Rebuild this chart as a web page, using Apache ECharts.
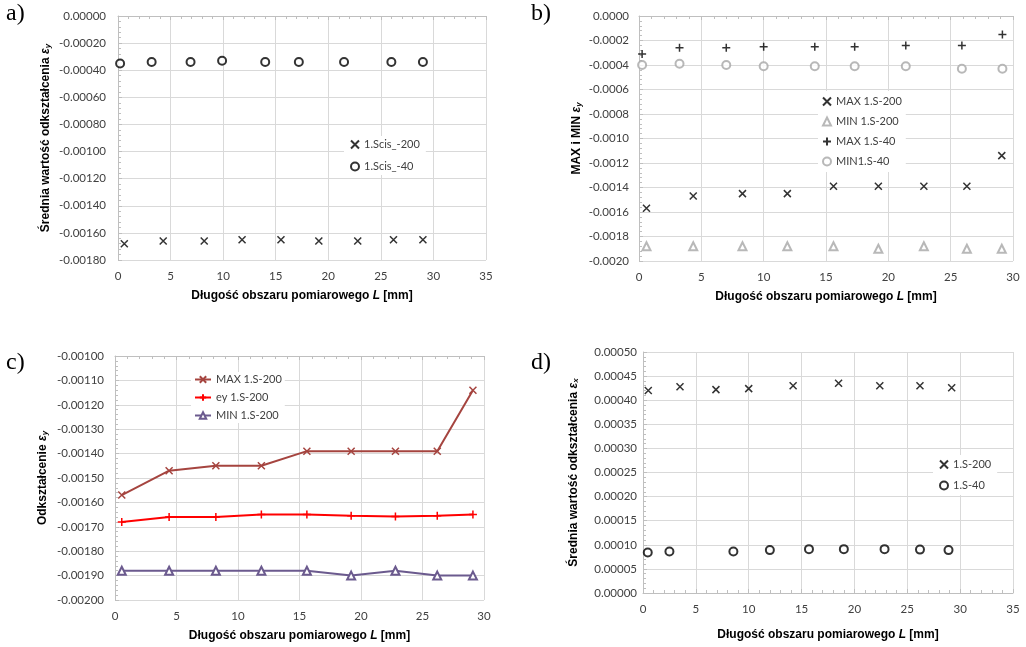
<!DOCTYPE html>
<html><head><meta charset="utf-8">
<script src="https://cdn.jsdelivr.net/npm/echarts@6/dist/echarts.min.js"></script>
<style>html,body{margin:0;padding:0;background:#fff}#c{width:1026px;height:647px}</style>
</head><body><div id="c"></div>
<script>
// Panel a
const aX200 = [0.6, 4.3, 8.2, 11.8, 15.5, 19.1, 22.8, 26.2, 29.0];
const aY200 = [-0.00168, -0.00166, -0.00166, -0.00165, -0.00165, -0.00166, -0.00166, -0.00165, -0.00165];
const aX40 = [0.2, 3.2, 6.9, 9.9, 14.0, 17.2, 21.5, 26.0, 29.0];
const aY40 = [-0.00035, -0.00034, -0.00034, -0.00033, -0.00034, -0.00034, -0.00034, -0.00034, -0.00034];
// Panel b
const bX200 = [0.6, 4.35, 8.3, 11.9, 15.6, 19.2, 22.85, 26.3, 29.1];
const bMax200 = [-0.00157, -0.00147, -0.00145, -0.00145, -0.00139, -0.00139, -0.00139, -0.00139, -0.00114];
const bMin200 = [-0.00188, -0.00188, -0.00188, -0.00188, -0.00188, -0.00190, -0.00188, -0.00190, -0.00190];
const bX40 = [0.25, 3.25, 7.0, 10.0, 14.1, 17.3, 21.4, 25.9, 29.15];
const bMax40 = [-0.00031, -0.00026, -0.00026, -0.00025, -0.00025, -0.00025, -0.00024, -0.00024, -0.00015];
const bMin40 = [-0.00040, -0.00039, -0.00040, -0.00041, -0.00041, -0.00041, -0.00041, -0.00043, -0.00043];
// Panel c
const cX = [0.55, 4.4, 8.2, 11.9, 15.6, 19.2, 22.8, 26.2, 29.1];
const cMax = [-0.00157, -0.00147, -0.00145, -0.00145, -0.00139, -0.00139, -0.00139, -0.00139, -0.00114];
const cEy = [-0.00168, -0.00166, -0.00166, -0.00165, -0.00165, -0.001655, -0.001658, -0.001655, -0.00165];
const cMin = [-0.00188, -0.00188, -0.00188, -0.00188, -0.00188, -0.00190, -0.00188, -0.00190, -0.00190];
// Panel d
const dX200 = [0.5, 3.5, 6.9, 10.0, 14.2, 18.5, 22.4, 26.2, 29.2];
const dY200 = [0.000420, 0.000428, 0.000422, 0.000424, 0.000430, 0.000435, 0.000430, 0.000430, 0.000426];
const dX40 = [0.45, 2.5, 8.55, 12.0, 15.7, 19.0, 22.85, 26.2, 28.9];
const dY40 = [0.000084, 0.000086, 0.000086, 0.000089, 0.000091, 0.000091, 0.000091, 0.000090, 0.000089];

const panelLabels = ['a)', 'b)', 'c)', 'd)'];
const xTitle = 'Długość obszaru pomiarowego {i|L} [mm]';
const yTitles = [
  'Średnia wartość odkształcenia {e|ε}{s|y}',
  'MAX i MIN {e|ε}{s|y}',
  'Odkształcenie {e|ε}{s|y}',
  'Średnia wartość odkształcenia {e|ε}{s|x}'
];
const namesA = ['1.Scis_-200', '1.Scis_-40'];
const namesB = ['MAX 1.S-200', 'MIN 1.S-200', 'MAX 1.S-40', 'MIN1.S-40'];
const namesC = ['MAX 1.S-200', 'ey 1.S-200', 'MIN 1.S-200'];
const namesD = ['1.S-200', '1.S-40'];

const zip = (xs, ys) => xs.map((x, i) => [x, ys[i]]);
const key = (p, n) => p + ':' + n;
const unkey = n => n.slice(2);
const CROSS = 'path://M0,0L10,10M0,10L10,0';
const PLUS = 'path://M5,0L5,10M0,5L10,5';
const GRIDC = '#d9d9d9';
const AXC = '#bfbfbf';
const LBL = {fontFamily: 'Lato', fontSize: 11.5, color: '#404040'};
const TITLE = {fontFamily: 'Liberation Sans', fontSize: 12, fontWeight: 'bold', color: '#000',
  rich: {
    e: {fontFamily: 'Liberation Sans', fontSize: 12, fontWeight: 'bold', fontStyle: 'italic', color: '#000'},
    s: {fontFamily: 'Liberation Sans', fontSize: 8, fontWeight: 'bold', fontStyle: 'italic', color: '#000', padding: [4, 0, 0, 0]},
    i: {fontFamily: 'Liberation Sans', fontSize: 12, fontWeight: 'bold', fontStyle: 'italic', color: '#000'}
  }};

function xBottom(grid, max, nameGap, showLine) {
  return {
    type: 'value', gridIndex: grid, position: 'bottom', min: 0, max: max, interval: 5,
    name: xTitle, nameLocation: 'middle', nameGap: nameGap, nameTextStyle: TITLE,
    axisLine: {show: showLine, onZero: false, lineStyle: {color: AXC}},
    axisTick: {show: showLine, inside: true, length: 4, lineStyle: {color: AXC}},
    minorTick: {show: showLine, splitNumber: 5, length: 3, lineStyle: {color: AXC}},
    axisLabel: Object.assign({margin: 10}, LBL),
    splitLine: {show: true, lineStyle: {color: GRIDC, width: 1}}
  };
}
function xTop(grid, max) {
  return {
    type: 'value', gridIndex: grid, position: 'top', min: 0, max: max, interval: 5,
    axisLine: {show: true, onZero: false, lineStyle: {color: AXC}},
    axisTick: {show: true, inside: true, length: 4, lineStyle: {color: AXC}},
    minorTick: {show: true, splitNumber: 5, length: 3, lineStyle: {color: AXC}},
    axisLabel: {show: false}, splitLine: {show: false}
  };
}
function yAx(grid, min, max, interval, dec, nameGap, margin, title) {
  return {
    type: 'value', gridIndex: grid, min: min, max: max, interval: interval,
    name: title, nameLocation: 'middle', nameRotate: 90, nameGap: nameGap, nameTextStyle: TITLE,
    axisLine: {show: true, onZero: false, lineStyle: {color: AXC}},
    axisTick: {show: true, inside: true, length: 4, lineStyle: {color: AXC}},
    minorTick: {show: true, splitNumber: 5, length: 3, lineStyle: {color: AXC}},
    axisLabel: Object.assign({margin: margin, formatter: v => (Math.abs(v) < 1e-12 ? 0 : v).toFixed(dec)}, LBL),
    splitLine: {show: true, lineStyle: {color: GRIDC, width: 1}}
  };
}
function scat(name, xi, yi, data, symbol, size, color) {
  return {
    type: 'scatter', name: name, xAxisIndex: xi, yAxisIndex: yi, data: data,
    symbol: symbol, symbolSize: size,
    itemStyle: {color: color, borderColor: color, borderWidth: 1.5},
    emphasis: {disabled: true}
  };
}
function lineS(name, data, symbol, size, color) {
  return {
    type: 'line', name: name, xAxisIndex: 4, yAxisIndex: 2, data: data,
    symbol: symbol, symbolSize: size, showAllSymbol: true,
    lineStyle: {color: color, width: 2},
    itemStyle: {color: color, borderColor: color, borderWidth: 1.5},
    emphasis: {disabled: true}
  };
}
const legText = {fontFamily: 'Lato', fontSize: 11, color: '#404040'};
function leg(names, p, left, top, pad, iw, ih, gap) {
  return {data: names.map(n => key(p, n)), formatter: unkey, orient: 'vertical', left: left, top: top,
    padding: pad, itemWidth: iw, itemHeight: ih, itemGap: gap,
    backgroundColor: '#fff', textStyle: legText, selectedMode: false};
}

const option = {
  animation: false,
  backgroundColor: '#fff',
  title: [
    {text: panelLabels[0], left: 6, top: 2},
    {text: panelLabels[1], left: 531, top: 2},
    {text: panelLabels[2], left: 6, top: 351},
    {text: panelLabels[3], left: 531, top: 351}
  ].map(t => Object.assign(t, {padding: 0, textStyle: {fontFamily: 'Liberation Serif', fontSize: 24, fontWeight: 'normal', color: '#000'}})),
  grid: [
    {left: 118, top: 16, width: 368, height: 244},
    {left: 639, top: 16, width: 374, height: 245},
    {left: 115, top: 356, width: 369, height: 244},
    {left: 643, top: 352, width: 370, height: 241}
  ],
  xAxis: [
    xBottom(0, 35, 30, false), xTop(0, 35),
    xBottom(1, 30, 30, false), xTop(1, 30),
    xBottom(2, 30, 30, false), xTop(2, 30),
    xBottom(3, 35, 36, true)
  ],
  yAxis: [
    yAx(0, -0.0018, 0, 0.0002, 5, 66, 12, yTitles[0]),
    yAx(1, -0.002, 0, 0.0002, 4, 56, 10, yTitles[1]),
    yAx(2, -0.002, -0.001, 0.0001, 5, 66, 11, yTitles[2]),
    yAx(3, 0, 0.0005, 0.00005, 5, 63, 6, yTitles[3])
  ],
  legend: [
    leg(namesA, 'a', 344, 136, [3, 6], 8, 8, 11),
    leg(namesB, 'b', 818, 91, [5, 4], 8, 8, 9),
    leg(namesC, 'c', 191, 372, [2, 3], 16, 8, 7),
    leg(namesD, 'd', 933, 455, [4, 6], 8, 8, 10)
  ],
  series: [
    scat(key('a', namesA[0]), 0, 0, zip(aX200, aY200), CROSS, 7, '#000'),
    scat(key('a', namesA[1]), 0, 0, zip(aX40, aY40), 'emptyCircle', 8, '#000'),
    scat(key('b', namesB[0]), 2, 1, zip(bX200, bMax200), CROSS, 7, '#000'),
    scat(key('b', namesB[1]), 2, 1, zip(bX200, bMin200), 'emptyTriangle', 8, '#a6a6a6'),
    scat(key('b', namesB[2]), 2, 1, zip(bX40, bMax40), PLUS, 8, '#000'),
    scat(key('b', namesB[3]), 2, 1, zip(bX40, bMin40), 'emptyCircle', 8, '#a6a6a6'),
    lineS(key('c', namesC[0]), zip(cX, cMax), CROSS, 7, '#a5443f'),
    lineS(key('c', namesC[1]), zip(cX, cEy), PLUS, 8, '#ff0000'),
    lineS(key('c', namesC[2]), zip(cX, cMin), 'emptyTriangle', 8, '#6b5a8e'),
    scat(key('d', namesD[0]), 6, 3, zip(dX200, dY200), CROSS, 7, '#000'),
    scat(key('d', namesD[1]), 6, 3, zip(dX40, dY40), 'emptyCircle', 8, '#000')
  ]
};
const chart = echarts.init(document.getElementById('c'), null, {renderer: 'canvas'});
chart.setOption(option);
</script>
</body></html>
